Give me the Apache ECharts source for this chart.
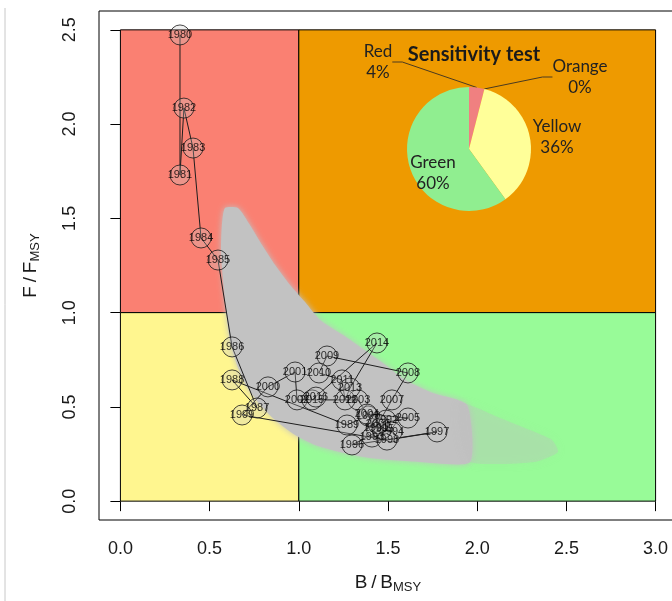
<!DOCTYPE html>
<html><head><meta charset="utf-8">
<script src="https://cdn.jsdelivr.net/npm/echarts@6/dist/echarts.min.js"></script>
<style>html,body{margin:0;padding:0;background:#fff}#c{width:672px;height:601px}</style>
</head><body><div id="c"></div>
<script>
// ---- data ----
const years = [1980,1981,1982,1983,1984,1985,1986,1987,1988,1989,1990,1991,1992,1993,1994,1995,1996,1997,1998,1999,2000,2001,2002,2003,2004,2005,2006,2007,2008,2009,2010,2011,2012,2013,2014,2015,2016];
const bRatio = [0.334,0.334,0.356,0.407,0.452,0.547,0.626,0.766,0.626,1.270,1.388,1.433,1.489,1.410,1.522,1.466,1.298,1.775,1.494,0.682,0.827,0.979,0.990,1.332,1.382,1.612,1.444,1.522,1.612,1.158,1.113,1.242,1.259,1.287,1.438,1.074,1.096];
const fRatio = [2.473,1.730,2.085,1.873,1.396,1.279,0.818,0.494,0.643,0.404,0.452,0.388,0.430,0.340,0.367,0.383,0.298,0.367,0.324,0.457,0.606,0.685,0.537,0.537,0.462,0.441,0.409,0.537,0.680,0.770,0.680,0.643,0.537,0.600,0.839,0.537,0.552];

// outline of the grey uncertainty cloud (dense part and faint tail)
const cloudB = [0.586,0.659,0.726,0.794,0.867,0.951,1.035,1.119,1.248,1.360,1.494,1.595,1.752,1.943,1.960,1.679,1.399,1.231,1.091,0.979,0.867,0.771,0.704,0.654,0.614,0.592,0.575,0.564,0.569];
const cloudF = [1.555,1.555,1.465,1.359,1.253,1.147,1.056,0.961,0.881,0.807,0.717,0.643,0.574,0.510,0.208,0.208,0.229,0.261,0.298,0.351,0.430,0.526,0.616,0.722,0.855,1.014,1.173,1.332,1.465];
const tailB = [1.904,2.128,2.296,2.419,2.453,2.324,1.960,1.904];
const tailF = [0.521,0.441,0.377,0.324,0.261,0.208,0.208,0.367];

// status zones
const zoneNames = ['Red','Orange','Yellow','Green'];
const zoneB0 = [0,1,0,1];
const zoneB1 = [1,3,1,3];
const zoneF0 = [1,1,0,0];
const zoneF1 = [2.5,2.5,1,1];
const zoneColors = ['#FA8072','#EE9A00','#FFF68F','#98FB98'];

// sensitivity test pie
const pieNames = ['Red','Orange','Yellow','Green'];
const pieValues = [4,0,36,60];
const pieColors = ['#F08080','#EE9A00','#FFFF99','#90EE90'];

const xTicks = [0,0.5,1,1.5,2,2.5,3];
const yTicks = [0,0.5,1,1.5,2,2.5];

// ---- chart ----
const chart = echarts.init(document.getElementById('c'), null, {renderer:'canvas'});
const axisFont = 'Liberation Sans, Arial, sans-serif';
const pieFont = 'Lato, sans-serif';
const pieLabelPos = {Red:[378,62], Orange:[580,77], Yellow:[557,137], Green:[433,173]};

function polySeries(bs, fs, fill, z, blur){
  return {
    type:'custom', z:z, silent:true,
    data:[[0,0]],
    renderItem:(params, api)=>{
      const pts = bs.map((b,i)=>api.coord([b, fs[i]]));
      return {type:'polygon', shape:{points:pts, smooth:0.2},
        style:{fill:fill, shadowBlur:blur, shadowColor:fill}};
    }
  };
}

const option = {
  animation:false,
  backgroundColor:'#fff',
  title:{text:'Sensitivity test', left:469, top:40, textAlign:'center',
    textStyle:{fontFamily:pieFont, fontWeight:'bold', fontSize:20, color:'#1a1a1a'}},
  grid:{left:99, top:11, width:578, height:509, outerBoundsMode:'none', containLabel:false,
    show:true, borderColor:'#000', borderWidth:1, backgroundColor:'transparent'},
  xAxis:{type:'value', min:-0.12, max:3.12,
    axisLine:{show:false}, splitLine:{show:false},
    axisTick:{show:true, length:10, customValues:xTicks, lineStyle:{color:'#000'}},
    axisLabel:{customValues:xTicks, margin:20, fontSize:18, fontFamily:axisFont, color:'#1a1a1a', formatter:v=>v.toFixed(1)},
    name:'{a|B\u2009/\u2009B}{b|MSY}', nameLocation:'middle', nameGap:52,
    nameTextStyle:{rich:{a:{fontSize:19, fontFamily:axisFont, color:'#1a1a1a'}, b:{fontSize:13, fontFamily:axisFont, color:'#1a1a1a', padding:[9,0,0,0]}}}
  },
  yAxis:{type:'value', min:-0.1, max:2.6,
    axisLine:{show:false}, splitLine:{show:false},
    axisTick:{show:true, length:10, customValues:yTicks, lineStyle:{color:'#000'}},
    axisLabel:{customValues:yTicks, margin:20, rotate:90, fontSize:18, fontFamily:axisFont, color:'#1a1a1a', formatter:v=>v.toFixed(1)},
    name:'{a|F\u2009/\u2009F}{b|MSY}', nameLocation:'middle', nameGap:57,
    nameTextStyle:{rich:{a:{fontSize:19, fontFamily:axisFont, color:'#1a1a1a'}, b:{fontSize:13, fontFamily:axisFont, color:'#1a1a1a', padding:[9,0,0,0]}}}
  },
  graphic:[{type:'line', shape:{x1:5, y1:8, x2:5, y2:601}, style:{stroke:'#c8c8c8', lineWidth:1}, silent:true}],
  series:[
    {type:'scatter', data:[], z:1, silent:true,
      markArea:{silent:true,
        data: zoneNames.map((n,i)=>[
          {xAxis:zoneB0[i], yAxis:zoneF0[i], itemStyle:{color:zoneColors[i], borderColor:'#000', borderWidth:1}},
          {xAxis:zoneB1[i], yAxis:zoneF1[i]}
        ])}
    },
    polySeries(cloudB, cloudF, '#c2c2c2', 2, 6),
    polySeries(tailB, tailF, 'rgba(192,192,192,0.35)', 2, 10),
    {type:'line', z:3, silent:true, showSymbol:false, symbol:'none',
      data: years.map((y,i)=>[bRatio[i], fRatio[i]]),
      lineStyle:{color:'#1e1e1e', width:1}},
    {type:'scatter', z:4, silent:true, symbol:'circle', symbolSize:20,
      data: years.map((y,i)=>[bRatio[i], fRatio[i], y]),
      itemStyle:{color:'rgba(200,200,200,0.35)', borderColor:'#1a1a1a', borderWidth:1},
      label:{show:true, position:'inside', formatter:p=>String(p.value[2]), fontSize:11, fontFamily:axisFont, color:'#000'}
    },
    {type:'pie', z:5, silent:true, center:[469,149], radius:62, startAngle:90, clockwise:true,
      data: pieNames.map((n,i)=>({name:n, value:pieValues[i], itemStyle:{color:pieColors[i]},
        labelLine:{show: n==='Red' || n==='Orange'}})),
      label:{show:true, formatter:'{b}\n{c}%', fontSize:17, lineHeight:21, fontFamily:pieFont, color:'#222', align:'center'},
      labelLine:{show:true, length:10, length2:10, lineStyle:{color:'#4a3a20', width:1}},
      labelLayout:p=>{const pos = pieLabelPos[pieNames[p.dataIndex]]; return {x:pos[0], y:pos[1], align:'center', verticalAlign:'middle'};}
    }
  ]
};
chart.setOption(option);
</script></body></html>
